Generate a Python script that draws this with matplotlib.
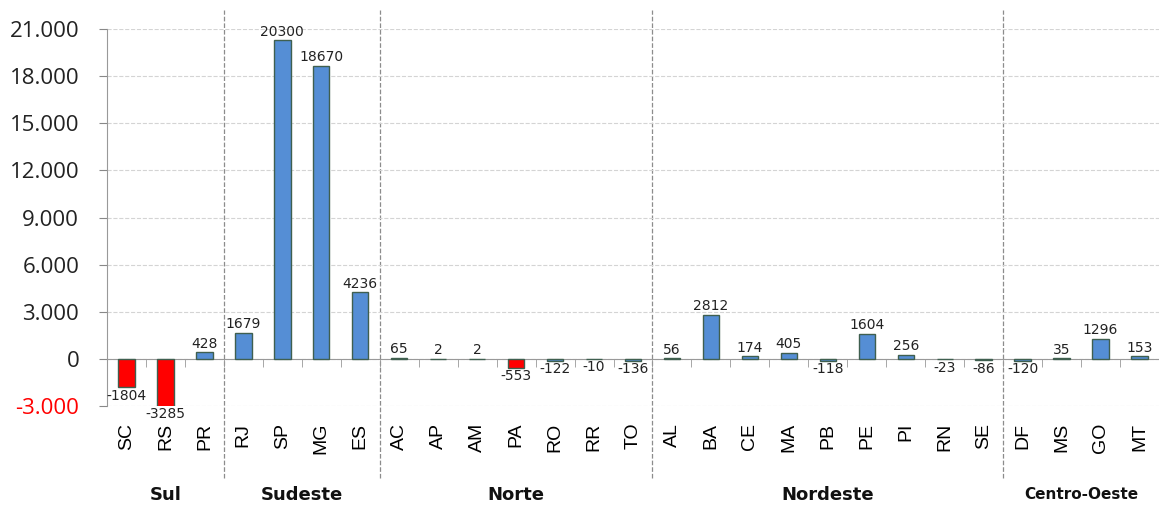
import matplotlib.pyplot as plt
import numpy as np
from matplotlib.ticker import FuncFormatter

states = ['SC', 'RS', 'PR', 'RJ', 'SP', 'MG', 'ES', 'AC', 'AP', 'AM', 'PA', 'RO', 'RR', 'TO',
          'AL', 'BA', 'CE', 'MA', 'PB', 'PE', 'PI', 'RN', 'SE', 'DF', 'MS', 'GO', 'MT']
values = [-1804, -3285, 428, 1679, 20300, 18670, 4236, 65, 2, 2, -553, -122, -10, -136,
          56, 2812, 174, 405, -118, 1604, 256, -23, -86, -120, 35, 1296, 153]
regions = ['Sul', 'Sudeste', 'Norte', 'Nordeste', 'Centro-Oeste']
region_sizes = [3, 4, 7, 9, 4]

blue = '#558ed5'
red = '#ff0000'
bar_colors = [red, red, blue, blue, blue, blue, blue, '#d0402a', '#c08850', '#8aa6c8', red,
              blue, blue, blue, '#e02828', blue, blue, blue, blue, blue, blue, blue, blue,
              blue, blue, blue, blue]

fig = plt.figure(figsize=(11.59, 5.14), dpi=100)
ax = fig.add_axes([107 / 1159, 1 - 406 / 514, 1 - 107 / 1159, 377 / 514])

x = np.arange(len(states))
ax.bar(x, values, width=0.42, color=bar_colors, edgecolor='#3f5f4f', linewidth=1, zorder=3)

for xi, v in zip(x, values):
    if v >= 0:
        ax.annotate(str(v), (xi, v), xytext=(0, 1), textcoords='offset points',
                    ha='center', va='bottom', fontsize=10, color='#222222',
                    annotation_clip=False, zorder=4)
    else:
        ax.annotate(str(v), (xi, max(v, -3000)), xytext=(0, -1), textcoords='offset points',
                    ha='center', va='top', fontsize=10, color='#222222',
                    annotation_clip=False, zorder=4)

ax.set_xlim(-0.5, len(states) - 0.5)
ax.set_ylim(-3000, 21000)
ax.set_yticks(np.arange(-3000, 21001, 3000))
ax.yaxis.set_major_formatter(FuncFormatter(lambda v, p: f'{int(v):,}'.replace(',', '.')))
ax.tick_params(axis='y', labelsize=16, length=6, color='#888888', pad=14)
for lab in ax.get_yticklabels():
    lab.set_fontfamily('Open Sans')
    lab.set_color(red if lab.get_text().startswith('-') else '#222222')

ax.grid(axis='y', linestyle='--', color='#d4d4d4', linewidth=0.8, zorder=0)

for s in ['top', 'right']:
    ax.spines[s].set_visible(False)
ax.spines['left'].set_color('#999999')
ax.spines['bottom'].set_position(('data', 0))
ax.spines['bottom'].set_color('#999999')

ax.set_xticks(x)
ax.set_xticklabels(states, rotation=90, fontsize=14, fontfamily='Liberation Sans', va='top')
ax.set_xticks(np.arange(-0.5, len(states), 1), minor=True)
ax.tick_params(axis='x', which='major', length=0, pad=46)
ax.tick_params(axis='x', which='minor', length=6, color='#999999', direction='out')

# group separators and labels
bounds = np.cumsum(region_sizes)
starts = np.concatenate([[0], bounds[:-1]])
for b in bounds[:-1]:
    ax.axvline(b - 0.5, ymin=-0.19, ymax=1.05, clip_on=False, color='#8c8c8c',
               linestyle='--', linewidth=0.9, zorder=1)
for name, s0, b in zip(regions, starts, bounds):
    fs = 11 if name == 'Centro-Oeste' else 13
    ax.text((s0 + b - 1) / 2, -0.235, name, transform=ax.get_xaxis_transform(),
            ha='center', va='center', fontsize=fs, fontweight='bold', color='#111111')

fig.savefig('out.png', dpi=100)
